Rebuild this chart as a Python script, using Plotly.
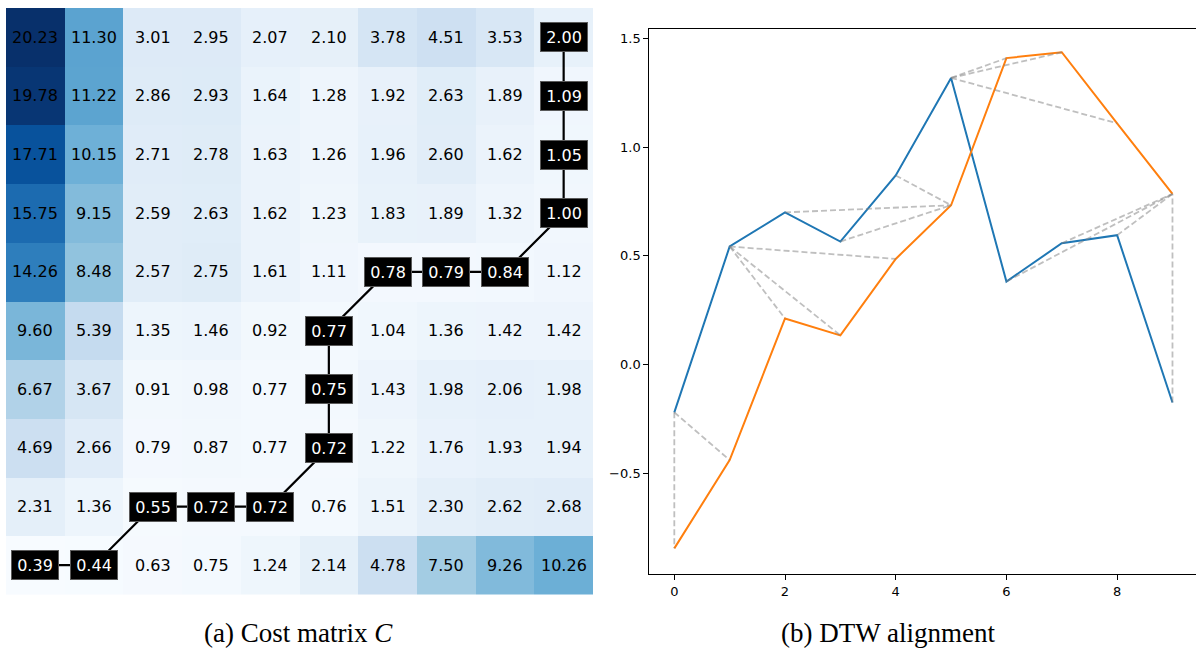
import plotly.graph_objects as go

# ---------------- data ----------------
# cost matrix rows: index 0 = bottom row (query/blue index), columns = reference/orange index
cost_rows = [
    [0.39, 0.44, 0.63, 0.75, 1.24, 2.14, 4.78, 7.50, 9.26, 10.26],
    [2.31, 1.36, 0.55, 0.72, 0.72, 0.76, 1.51, 2.30, 2.62, 2.68],
    [4.69, 2.66, 0.79, 0.87, 0.77, 0.72, 1.22, 1.76, 1.93, 1.94],
    [6.67, 3.67, 0.91, 0.98, 0.77, 0.75, 1.43, 1.98, 2.06, 1.98],
    [9.60, 5.39, 1.35, 1.46, 0.92, 0.77, 1.04, 1.36, 1.42, 1.42],
    [14.26, 8.48, 2.57, 2.75, 1.61, 1.11, 0.78, 0.79, 0.84, 1.12],
    [15.75, 9.15, 2.59, 2.63, 1.62, 1.23, 1.83, 1.89, 1.32, 1.00],
    [17.71, 10.15, 2.71, 2.78, 1.63, 1.26, 1.96, 2.60, 1.62, 1.05],
    [19.78, 11.22, 2.86, 2.93, 1.64, 1.28, 1.92, 2.63, 1.89, 1.09],
    [20.23, 11.30, 3.01, 2.95, 2.07, 2.10, 3.78, 4.51, 3.53, 2.00],
]
path_rows = [0, 0, 1, 1, 1, 2, 3, 4, 5, 5, 5, 6, 7, 8, 9]
path_cols = [0, 1, 2, 3, 4, 5, 5, 5, 6, 7, 8, 9, 9, 9, 9]

time_idx = [0, 1, 2, 3, 4, 5, 6, 7, 8, 9]
series_blue = [-0.22, 0.543, 0.70, 0.566, 0.87, 1.319, 0.382, 0.558, 0.595, -0.175]
series_orange = [-0.846, -0.44, 0.212, 0.134, 0.486, 0.733, 1.41, 1.437, 1.11, 0.785]

x_ticks = [0, 2, 4, 6, 8]
y_ticks = [-0.5, 0.0, 0.5, 1.0, 1.5]
y_ticklabels = ["\u22120.5", "0.0", "0.5", "1.0", "1.5"]

W, H = 1196, 648

fig = go.Figure()

# ---------------- heatmap ----------------
fig.add_trace(go.Heatmap(
    z=cost_rows, x=list(range(10)), y=list(range(10)),
    colorscale="Blues", zmin=min(min(r) for r in cost_rows), zmax=max(max(r) for r in cost_rows),
    showscale=False, xaxis="x", yaxis="y", hoverinfo="skip",
))
fig.add_trace(go.Scatter(
    x=path_cols, y=path_rows, mode="lines",
    line=dict(color="black", width=2.2), xaxis="x", yaxis="y",
    showlegend=False, hoverinfo="skip",
))

on_path = set(zip(path_rows, path_cols))
annotations = []
for i, row in enumerate(cost_rows):
    for j, v in enumerate(row):
        if (i, j) in on_path:
            annotations.append(dict(
                x=j, y=i, xref="x", yref="y", text=f"{v:.2f}", showarrow=False,
                font=dict(family="DejaVu Sans", size=16, color="white"),
                bgcolor="black", bordercolor="rgb(90,90,90)", borderwidth=1,
                width=44, height=26, xanchor="center", yanchor="middle",
            ))
        else:
            annotations.append(dict(
                x=j, y=i, xref="x", yref="y", text=f"{v:.2f}", showarrow=False,
                font=dict(family="DejaVu Sans", size=16, color="black"),
                xanchor="center", yanchor="middle",
            ))

# ---------------- DTW alignment ----------------
fig.add_trace(go.Scatter(
    x=time_idx, y=series_blue, mode="lines",
    line=dict(color="#1f77b4", width=2), xaxis="x2", yaxis="y2",
    showlegend=False, hoverinfo="skip",
))
fig.add_trace(go.Scatter(
    x=time_idx, y=series_orange, mode="lines",
    line=dict(color="#ff7f0e", width=2), xaxis="x2", yaxis="y2",
    showlegend=False, hoverinfo="skip",
))
lx, ly = [], []
for a, b in zip(path_rows, path_cols):
    lx += [time_idx[a], time_idx[b], None]
    ly += [series_blue[a], series_orange[b], None]
fig.add_trace(go.Scatter(
    x=lx, y=ly, mode="lines",
    line=dict(color="rgba(128,128,128,0.5)", width=1.8, dash="6px,3px"),
    xaxis="x2", yaxis="y2", showlegend=False, hoverinfo="skip",
))

annotations.append(dict(
    x=298 / W, y=1 - 633 / H, xref="paper", yref="paper", showarrow=False,
    text="(a) Cost matrix <i>C</i>", font=dict(family="Liberation Serif", size=27, color="black"),
    xanchor="center", yanchor="middle",
))
annotations.append(dict(
    x=888 / W, y=1 - 633 / H, xref="paper", yref="paper", showarrow=False,
    text="(b) DTW alignment", font=dict(family="Liberation Serif", size=27, color="black"),
    xanchor="center", yanchor="middle",
))

tickfont = dict(family="DejaVu Sans", size=13, color="black")

fig.update_layout(
    width=W, height=H, margin=dict(l=0, r=0, t=0, b=0),
    plot_bgcolor="white", paper_bgcolor="white", showlegend=False,
    xaxis=dict(domain=[6 / W, 593 / W], range=[-0.5, 9.5], showticklabels=False,
               showgrid=False, zeroline=False, ticks="", showline=False),
    yaxis=dict(domain=[1 - 594.5 / H, 1 - 8 / H], range=[-0.5, 9.5], showticklabels=False,
               showgrid=False, zeroline=False, ticks="", showline=False),
    xaxis2=dict(domain=[649.4 / W, 1.0], range=[-0.45, 9.425], anchor="y2",
                tickvals=x_ticks, ticktext=[str(t) for t in x_ticks], tickfont=tickfont,
                showgrid=False, zeroline=False, ticks="outside", ticklen=5, tickwidth=1,
                tickcolor="black", showline=True, linecolor="black", linewidth=1.2, mirror=True),
    yaxis2=dict(domain=[1 - 574 / H, 1 - 29 / H], range=[-0.964, 1.544], anchor="x2",
                tickvals=y_ticks, ticktext=y_ticklabels, tickfont=tickfont,
                showgrid=False, zeroline=False, ticks="outside", ticklen=5, tickwidth=1,
                tickcolor="black", showline=True, linecolor="black", linewidth=1.2),
    annotations=annotations,
)

fig.write_html(
    "out.html",
    config={"displayModeBar": False},
    post_script="document.body.style.margin='0';document.body.style.overflow='hidden';",
)
